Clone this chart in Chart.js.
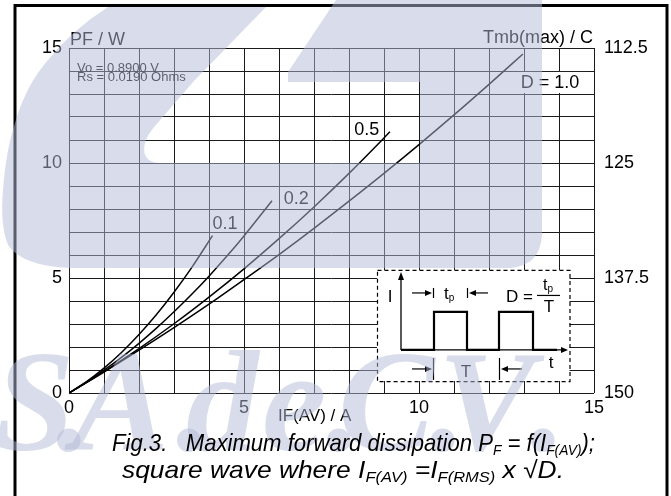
<!DOCTYPE html>
<html><head><meta charset="utf-8">
<script src="https://cdn.jsdelivr.net/npm/chart.js@4.4.1/dist/chart.umd.min.js"></script>
<style>html,body{margin:0;padding:0;background:#fff;overflow:hidden}#wrap{width:671px;height:496px;position:relative}</style>
</head><body><div id="wrap"><canvas id="c" width="671" height="496"></canvas></div>
<script>
// ---- data ----
const xTickLabels = ['0', '5', '10', '15'];
const yTickLabels = ['0', '5', '10', '15'];
const tmbTickLabels = ['112.5', '125', '137.5', '150'];
const seriesNames = ['0.1', '0.2', '0.5', 'D = 1.0'];

const IF_D01 = [0, 0.5, 1, 1.5, 2, 2.5, 3, 3.5, 4.1];
const PF_D01 = [0, 0.49, 1.08, 1.76, 2.54, 3.41, 4.38, 5.44, 6.84];
const IF_D02 = [0, 0.5, 1, 1.5, 2, 2.5, 3, 3.5, 4, 4.5, 5, 5.8];
const PF_D02 = [0, 0.47, 0.99, 1.55, 2.16, 2.82, 3.53, 4.28, 5.08, 5.93, 6.83, 8.36];
const IF_D05 = [0, 1, 2, 3, 4, 5, 6, 7, 8, 9, 9.17];
const PF_D05 = [0, 0.93, 1.93, 3.01, 4.17, 5.40, 6.71, 8.09, 9.55, 11.09, 11.36];
const IF_D10 = [0, 1, 2, 3, 4, 5, 6, 7, 8, 9, 10, 11, 12, 12.97];
const PF_D10 = [0, 0.91, 1.86, 2.84, 3.86, 4.93, 6.02, 7.16, 8.34, 9.55, 10.80, 12.09, 13.42, 14.74];

// curve label anchors (data units)
const labelAnchorX = [4.46, 6.49, 8.51, 13.74];
const labelAnchorY = [7.35, 8.43, 11.43, 13.48];

const SANS = '"Liberation Sans", Arial, sans-serif';
const pts = (xs, ys) => xs.map((x, i) => ({x: x, y: ys[i]}));

function drawRich(ctx, segs, x, y, targetW) {
  ctx.save();
  let w = 0;
  for (const s of segs) { ctx.font = s.f; w += ctx.measureText(s.t).width; }
  const k = targetW ? targetW / w : 1;
  ctx.translate(x, y);
  ctx.scale(k, 1);
  let cx = 0;
  for (const s of segs) {
    ctx.font = s.f;
    ctx.fillText(s.t, cx, s.dy || 0);
    cx += ctx.measureText(s.t).width;
  }
  ctx.restore();
}
function arrow(ctx, x1, y, x2) {
  const d = x2 > x1 ? 1 : -1;
  ctx.beginPath(); ctx.moveTo(x1, y); ctx.lineTo(x2 - d * 5, y); ctx.stroke();
  ctx.beginPath(); ctx.moveTo(x2, y); ctx.lineTo(x2 - d * 7, y - 3); ctx.lineTo(x2 - d * 7, y + 3); ctx.closePath(); ctx.fill();
}

const decor = {
  id: 'decor',
  afterDraw(chart) {
    const ctx = chart.ctx;
    const xs = chart.scales.x, ys = chart.scales.y;
    const px = v => xs.getPixelForValue(v), py = v => ys.getPixelForValue(v);
    ctx.save();
    ctx.fillStyle = '#000'; ctx.strokeStyle = '#000';

    // curve labels
    ctx.textAlign = 'center'; ctx.textBaseline = 'middle';
    ctx.font = '18px ' + SANS;
    for (let i = 0; i < 3; i++) ctx.fillText(seriesNames[i], px(labelAnchorX[i]), py(labelAnchorY[i]));
    {
      const cx = px(labelAnchorX[3]), cy = py(labelAnchorY[3]);
      ctx.fillStyle = '#fff'; ctx.fillRect(cx - 32, cy - 11, 69, 21);
      ctx.fillStyle = '#000'; ctx.fillText(seriesNames[3], cx, cy);
    }

    // axis titles
    ctx.textBaseline = 'alphabetic';
    ctx.textAlign = 'left'; ctx.font = '18px ' + SANS;
    ctx.fillText('PF / W', 70, 45);
    ctx.textAlign = 'right';
    ctx.fillText('Tmb(max) / C', 593, 43);
    ctx.textAlign = 'left';
    ctx.font = '17px ' + SANS;
    ctx.fillText('IF(AV) / A', 278, 421);
    ctx.font = '13px ' + SANS;
    ctx.fillText('Vo = 0.8900 V', 77, 72);
    ctx.fillText('Rs = 0.0190 Ohms', 77, 81);

    // inset diagram
    const L = px(8.8), R = px(14.3), T = py(5.35), B = py(0.52);
    ctx.fillStyle = '#fff'; ctx.fillRect(L, T, R - L, B - T);
    ctx.fillStyle = '#000';
    ctx.lineWidth = 1.2; ctx.setLineDash([4, 3]);
    ctx.strokeRect(L + 0.5, T + 0.5, R - L, B - T);
    ctx.setLineDash([]);
    ctx.lineWidth = 1.3;
    ctx.beginPath(); ctx.moveTo(L + 24, T + 80); ctx.lineTo(L + 24, T + 8); ctx.stroke();
    ctx.beginPath(); ctx.moveTo(L + 24, T + 2); ctx.lineTo(L + 21, T + 10); ctx.lineTo(L + 27, T + 10); ctx.closePath(); ctx.fill();
    arrow(ctx, L + 24, T + 80, L + 191);
    ctx.lineWidth = 2.2;
    ctx.beginPath();
    ctx.moveTo(L + 24, T + 80); ctx.lineTo(L + 57, T + 80); ctx.lineTo(L + 57, T + 42); ctx.lineTo(L + 90, T + 42);
    ctx.lineTo(L + 90, T + 80); ctx.lineTo(L + 122, T + 80); ctx.lineTo(L + 122, T + 42); ctx.lineTo(L + 156, T + 42);
    ctx.lineTo(L + 156, T + 80); ctx.lineTo(L + 180, T + 80);
    ctx.stroke();
    ctx.lineWidth = 1.2;
    arrow(ctx, L + 35, T + 23, L + 55);
    ctx.beginPath(); ctx.moveTo(L + 56.5, T + 18); ctx.lineTo(L + 56.5, T + 28); ctx.stroke();
    ctx.beginPath(); ctx.moveTo(L + 90.5, T + 18); ctx.lineTo(L + 90.5, T + 28); ctx.stroke();
    arrow(ctx, L + 111, T + 23, L + 92);
    arrow(ctx, L + 35, T + 99, L + 55);
    ctx.beginPath(); ctx.moveTo(L + 56.5, T + 88); ctx.lineTo(L + 56.5, T + 110); ctx.stroke();
    ctx.beginPath(); ctx.moveTo(L + 122.5, T + 88); ctx.lineTo(L + 122.5, T + 110); ctx.stroke();
    arrow(ctx, L + 145, T + 99, L + 124);
    ctx.textAlign = 'center'; ctx.textBaseline = 'alphabetic';
    ctx.font = '17px ' + SANS;
    ctx.fillText('I', L + 13, T + 32);
    ctx.fillText('T', L + 89, T + 107);
    ctx.fillText('t', L + 174, T + 98);
    ctx.textAlign = 'left';
    drawRich(ctx, [{t: 't', f: '17px ' + SANS}, {t: 'p', f: '10px ' + SANS, dy: 2}], L + 67, T + 29);
    ctx.font = '17px ' + SANS;
    ctx.fillText('D =', L + 129, T + 32);
    drawRich(ctx, [{t: 't', f: '16px ' + SANS}, {t: 'p', f: '10px ' + SANS, dy: 2}], L + 166, T + 20);
    ctx.beginPath(); ctx.moveTo(L + 160, T + 25.5); ctx.lineTo(L + 183, T + 25.5); ctx.stroke();
    ctx.textAlign = 'center';
    ctx.font = '17px ' + SANS;
    ctx.fillText('T', L + 172, T + 42);

    // outer frame
    ctx.lineWidth = 3;
    ctx.beginPath(); ctx.moveTo(15, 496); ctx.lineTo(15, 5.5); ctx.lineTo(667, 5.5); ctx.lineTo(667, 496); ctx.stroke();

    // watermark overlay (logo)
    ctx.fillStyle = 'rgba(180,185,215,0.5)';
    ctx.beginPath();
    ctx.moveTo(108, 7);
    ctx.lineTo(266, 7);
    ctx.lineTo(193, 82);
    ctx.lineTo(155, 126);
    ctx.quadraticCurveTo(141, 142, 145, 155);
    ctx.quadraticCurveTo(149, 163, 160, 163);
    ctx.lineTo(420, 163);
    ctx.lineTo(420, 82);
    ctx.lineTo(288, 82);
    ctx.lineTo(288, 72);
    ctx.lineTo(336, 0);
    ctx.lineTo(542, 0);
    ctx.lineTo(542, 235);
    ctx.quadraticCurveTo(540, 266, 510, 268);
    ctx.lineTo(70, 268);
    ctx.quadraticCurveTo(22, 266, 8, 245);
    ctx.quadraticCurveTo(0, 225, 3, 190);
    ctx.quadraticCurveTo(6, 150, 15, 123);
    ctx.quadraticCurveTo(26, 85, 48, 60);
    ctx.quadraticCurveTo(72, 30, 108, 7);
    ctx.closePath();
    ctx.fill();
    ctx.font = 'italic bold 145px "Liberation Serif", "Times New Roman", serif';
    ctx.textAlign = 'left'; ctx.textBaseline = 'alphabetic';
    const wm = [['S', -6], ['.', 56], ['A', 72], ['.', 176], ['d', 186], ['e', 262], ['.', 326], ['C', 338], ['.', 430], ['V', 438], ['.', 530]];
    for (const [ch, x] of wm) ctx.fillText(ch, x, 450);

    // caption
    ctx.fillStyle = '#000';
    const F = 'italic 24px ' + SANS, S = 'italic 15px ' + SANS;
    drawRich(ctx, [
      {t: 'Fig.3.   Maximum forward dissipation P', f: F}, {t: 'F', f: S, dy: 4},
      {t: ' = f(I', f: F}, {t: 'F(AV)', f: S, dy: 4}, {t: ');', f: F}
    ], 112, 451, 483);
    drawRich(ctx, [
      {t: 'square wave where I', f: F}, {t: 'F(AV)', f: S, dy: 4},
      {t: ' =I', f: F}, {t: 'F(RMS)', f: S, dy: 4}, {t: ' x \u221AD.', f: F}
    ], 122, 478, 442);
    ctx.restore();
  }
};

const lineDs = (name, xs, ys) => ({
  label: name, data: pts(xs, ys), borderColor: '#000', borderWidth: 1.5,
  pointRadius: 0, fill: false, cubicInterpolationMode: 'monotone'
});

new Chart(document.getElementById('c').getContext('2d'), {
  type: 'line',
  data: {
    datasets: [
      lineDs(seriesNames[0], IF_D01, PF_D01),
      lineDs(seriesNames[1], IF_D02, PF_D02),
      lineDs(seriesNames[2], IF_D05, PF_D05),
      lineDs(seriesNames[3], IF_D10, PF_D10)
    ]
  },
  options: {
    responsive: false, animation: false, devicePixelRatio: 1,
    layout: {padding: {top: 48, left: 0, right: 0, bottom: 0}},
    plugins: {legend: {display: false}, tooltip: {enabled: false}},
    scales: {
      x: {
        type: 'linear', min: 0, max: 15,
        ticks: {stepSize: 1, autoSkip: false, maxRotation: 0, padding: 4, color: '#000',
          font: {family: SANS, size: 18},
          callback: v => xTickLabels.includes(String(v)) ? String(v) : ''},
        grid: {color: '#1a1a1a', lineWidth: 1, drawTicks: false},
        border: {display: false},
        afterFit(s) { s.height = 103; s.paddingLeft = 0; s.paddingRight = 0; }
      },
      y: {
        type: 'linear', min: 0, max: 15,
        ticks: {stepSize: 1, autoSkip: false, padding: 7, color: '#000',
          font: {family: SANS, size: 18},
          callback: v => yTickLabels.includes(String(v)) ? String(v) : ''},
        grid: {color: '#1a1a1a', lineWidth: 1, drawTicks: false},
        border: {display: false},
        afterFit(s) { s.width = 69; s.paddingTop = 0; s.paddingBottom = 0; }
      },
      y2: {
        type: 'linear', position: 'right', min: 112.5, max: 150, reverse: true,
        ticks: {stepSize: 12.5, autoSkip: false, padding: 2, color: '#000',
          font: {family: SANS, size: 18},
          callback: v => tmbTickLabels.includes(String(v)) ? String(v) : ''},
        grid: {display: false},
        border: {display: false},
        afterFit(s) { s.width = 77; s.paddingTop = 0; s.paddingBottom = 0; }
      }
    }
  },
  plugins: [decor]
});
</script>
</body></html>
